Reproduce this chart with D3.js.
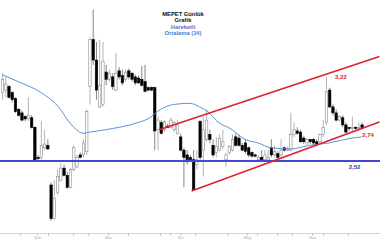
<!DOCTYPE html>
<html>
<head>
<meta charset="utf-8">
<script src="https://cdn.jsdelivr.net/npm/d3@7"></script>
<style>
  body { margin: 0; background: #fff; }
  svg { display: block; }
</style>
</head>
<body>
<div id="chart"></div>
<script>
// daily candles
const open = [3.09,3.11,3.14,3.09,3.04,2.95,2.92,2.89,2.87,2.88,
  2.80,2.55,2.55,2.63,2.65,2.32,2.04,2.26,2.36,2.46,
  2.40,2.30,2.45,2.47,2.57,2.57,2.60,3.14,3.53,3.36,
  2.97,2.99,3.26,3.20,3.22,3.11,3.27,3.23,3.20,3.27,
  3.25,3.22,3.21,3.20,3.18,3.13,3.13,3.13,2.78,2.84,
  2.78,2.81,2.80,2.78,2.75,2.72,2.61,2.57,2.55,2.53,
  2.49,2.85,2.61,2.70,2.74,2.65,2.59,2.61,2.64,2.53,
  2.59,2.61,2.72,2.71,2.65,2.67,2.63,2.59,2.57,2.53,
  2.55,2.53,2.53,2.63,2.57,2.58,2.57,2.63,2.61,2.61,
  2.74,2.77,2.76,2.71,2.67,2.70,2.70,2.68,2.68,2.74,
  2.84,3.11,2.97,2.92,2.86,2.88,2.82,2.80,2.79,2.80,
  2.79,2.82]
const high = [3.25,3.22,3.15,3.10,3.05,2.96,2.94,2.90,3.05,2.90,
  2.81,2.57,2.85,2.78,2.70,2.34,2.36,2.45,2.50,2.49,
  2.43,2.46,2.65,2.57,2.59,2.70,2.95,3.55,3.78,3.51,
  3.53,3.51,3.32,3.28,3.25,3.42,3.30,3.28,3.28,3.29,
  3.26,3.24,3.23,3.31,3.32,3.14,3.14,3.14,2.89,2.86,
  2.86,2.83,2.88,2.85,2.86,2.75,2.63,2.61,2.57,2.61,
  2.61,2.86,2.89,2.95,2.78,2.70,2.72,2.74,2.78,2.59,
  2.65,2.74,2.75,2.74,2.67,2.70,2.64,2.60,2.58,2.57,
  2.61,2.61,2.61,2.70,2.65,2.60,2.70,2.64,2.64,2.92,
  2.84,2.80,2.78,2.73,2.71,2.70,2.71,2.70,2.75,2.86,
  3.22,3.13,2.99,2.95,2.90,2.90,2.84,2.80,2.89,2.81,
  2.84,2.84]
const low = [3.03,3.05,3.04,3.01,2.92,2.89,2.85,2.85,2.85,2.79,
  2.52,2.52,2.53,2.61,2.61,2.02,2.03,2.24,2.35,2.39,
  2.29,2.29,2.43,2.46,2.55,2.55,2.57,2.99,3.32,3.03,
  2.96,2.97,3.15,3.18,3.11,3.10,3.20,3.15,3.18,3.20,
  3.18,3.15,3.16,3.14,3.09,3.10,3.10,2.61,2.61,2.74,
  2.76,2.80,2.79,2.76,2.74,2.60,2.30,2.49,2.52,2.28,
  2.45,2.53,2.39,2.68,2.67,2.55,2.55,2.60,2.62,2.47,
  2.57,2.60,2.64,2.64,2.60,2.58,2.55,2.55,2.55,2.52,
  2.51,2.52,2.52,2.55,2.55,2.55,2.55,2.60,2.60,2.60,
  2.72,2.74,2.67,2.66,2.65,2.66,2.65,2.64,2.67,2.72,
  2.82,2.96,2.90,2.85,2.85,2.80,2.75,2.77,2.76,2.78,
  2.77,2.78]
const close = [3.20,3.16,3.05,3.03,2.93,2.90,2.86,2.87,2.90,2.80,
  2.53,2.54,2.65,2.66,2.62,2.04,2.21,2.39,2.46,2.40,
  2.30,2.45,2.63,2.55,2.55,2.67,2.93,3.53,3.36,3.11,
  3.15,3.35,3.20,3.25,3.14,3.25,3.22,3.17,3.26,3.22,
  3.20,3.17,3.17,3.15,3.10,3.11,3.11,2.77,2.86,2.75,
  2.85,2.80,2.86,2.84,2.82,2.61,2.55,2.53,2.53,2.28,
  2.53,2.55,2.78,2.86,2.70,2.57,2.64,2.71,2.68,2.57,
  2.64,2.70,2.65,2.65,2.61,2.60,2.57,2.56,2.56,2.55,
  2.53,2.57,2.55,2.57,2.60,2.55,2.61,2.61,2.62,2.74,
  2.78,2.75,2.68,2.68,2.70,2.68,2.67,2.66,2.74,2.80,
  3.10,2.97,2.92,2.86,2.89,2.82,2.76,2.79,2.80,2.79,
  2.80,2.80]

// moving average (34), read at a few candles
const maIndex = [0,5,12,18,20,23,25,27,32,42,45,49,53,58,61,64,66,71,75,79,83,89,95,101,108,111]
const maValue = [3.24,3.18,3.09,2.95,2.87,2.78,2.75,2.76,2.78,2.84,2.87,2.95,2.99,3.00,2.97,2.92,2.86,2.78,2.70,2.67,2.63,2.62,2.65,2.67,2.71,2.72]

// channel lines [candle, price]
const upperTrend = [[48.5, 2.78], [116.5, 3.39]]
const lowerTrend = [[58.5, 2.27], [116.5, 2.845]]
const support = 2.52

const tickIndex = [5.6,10.8,14.2,21.9,26.6,32.7,38.9,48.8,51.9,55,59.6,69.5,75.6,78.7,84.9,89.5,95.7,99.1,106.8]
const tickLabels = ["","Şub","","","","Mar","","","","Nis","","","May","","","","Haz","",""]

const width = 380
const height = 240

const candles = open.map((o, i) => ({ i, o, h: high[i], l: low[i], c: close[i] }))

const x = d3.scaleLinear().domain([0, open.length - 1]).range([2, 361.6])
const y = d3.scaleLinear().domain([1.92, 3.86]).range([233, 0])
const bodyW = 2.4

const svg = d3.select("#chart").append("svg")
    .attr("width", width)
    .attr("height", height)
    .style("background", "#fff")

// bottom axis
svg.append("line")
    .attr("x1", 0).attr("x2", width)
    .attr("y1", 233.5).attr("y2", 233.5)
    .attr("stroke", "#c9d8d8")

const axis = svg.append("g")
    .attr("transform", "translate(0,233.5)")
    .call(d3.axisBottom(x).tickValues(tickIndex).tickSize(2).tickPadding(1)
      .tickFormat((d, i) => tickLabels[i]))
axis.select(".domain").remove()
axis.selectAll("line").attr("stroke", "#b8b8b8")
axis.selectAll("text").attr("fill", "#aaa").style("font", "4px 'Liberation Sans', sans-serif")

// candles
const g = svg.append("g")
g.selectAll("line.wick")
  .data(candles)
  .join("line")
    .attr("class", "wick")
    .attr("x1", d => x(d.i) + 0.5).attr("x2", d => x(d.i) + 0.5)
    .attr("y1", d => y(d.h)).attr("y2", d => y(d.l))
    .attr("stroke", d => d.c >= d.o ? "#a0a0a0" : "#666")
    .attr("stroke-width", 0.8)

g.selectAll("rect.body")
  .data(candles)
  .join("rect")
    .attr("class", "body")
    .attr("x", d => x(d.i) - bodyW / 2 + 0.5)
    .attr("y", d => y(Math.max(d.o, d.c)))
    .attr("width", bodyW)
    .attr("height", d => Math.max(1, Math.abs(y(d.o) - y(d.c))))
    .attr("fill", d => d.c >= d.o ? "#fff" : "#000")
    .attr("stroke", d => d.c >= d.o ? "#8a8a8a" : "#000")
    .attr("stroke-width", 0.6)

// moving average
const ma = maIndex.map((d, k) => [d, maValue[k]])
svg.append("path")
    .datum(ma)
    .attr("fill", "none")
    .attr("stroke", "#5b93d8")
    .attr("stroke-width", 1)
    .attr("d", d3.line().x(d => x(d[0])).y(d => y(d[1])).curve(d3.curveMonotoneX))

// support
svg.append("line")
    .attr("x1", 0).attr("x2", width)
    .attr("y1", y(support)).attr("y2", y(support))
    .attr("stroke", "#4646d6")
    .attr("stroke-width", 2)

// channel
svg.selectAll("line.trend")
  .data([upperTrend, lowerTrend])
  .join("line")
    .attr("class", "trend")
    .attr("x1", d => x(d[0][0])).attr("y1", d => y(d[0][1]))
    .attr("x2", d => x(d[1][0])).attr("y2", d => y(d[1][1]))
    .attr("stroke", "#e2202e")
    .attr("stroke-width", 1.6)

// price notes
const notes = [
  { t: "3,22", v: 3.22, i: 102.8, c: "#e2202e" },
  { t: "2,74", v: 2.74, i: 111.2, c: "#e2202e" },
  { t: "2,52", v: 2.52, i: 107, c: "#3434c4", dy: 6 }
]
svg.selectAll("text.note")
  .data(notes)
  .join("text")
    .attr("class", "note")
    .attr("x", d => x(d.i))
    .attr("y", d => y(d.v) + (d.dy || 0) + 2)
    .attr("fill", d => d.c)
    .style("font", "bold 6px 'Liberation Sans', sans-serif")
    .text(d => d.t)

// title
const title = [
  { t: "MEPET Günlük", c: "#111" },
  { t: "Grafik", c: "#111" },
  { t: "Hareketli", c: "#6a6ad2" },
  { t: "Ortalama (34)", c: "#4f80d0" }
]
svg.selectAll("text.title")
  .data(title)
  .join("text")
    .attr("class", "title")
    .attr("x", 183)
    .attr("y", (d, i) => 16 + i * 6.3)
    .attr("text-anchor", "middle")
    .attr("fill", d => d.c)
    .style("font", "bold 5.8px 'Liberation Sans', sans-serif")
    .text(d => d.t)
</script>
</body>
</html>
